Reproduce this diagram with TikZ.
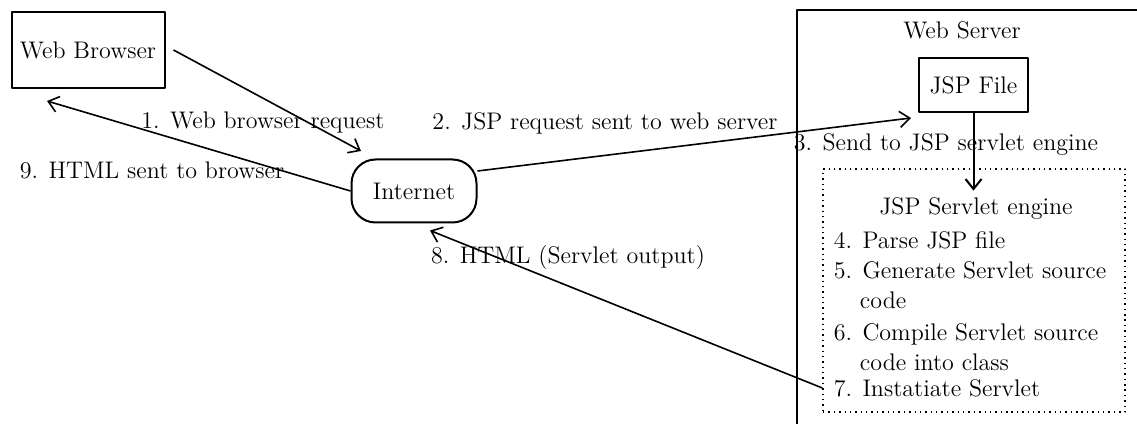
\documentclass[tikz,border=0pt]{standalone}
\usepackage{tikz}
\usetikzlibrary{arrows.meta,calc,positioning}

\tikzset{
  box/.style={draw,line width=1bp,inner sep=2bp},
  netbox/.style={draw,line width=1bp,rounded corners=12bp,minimum width=62.5bp,minimum height=31.5bp},
  enginebox/.style={draw,dotted,line width=0.7bp,minimum width=151bp,minimum height=121.5bp},
  stepline/.style={anchor=west,align=left,inner sep=0pt},
}

\begin{document}
\begin{tikzpicture}[>={Straight Barb[length=5bp,width=8bp]},line join=bevel,font=\fontsize{12bp}{14.8bp}\selectfont]
\pgfsetlinewidth{0.8bp}
\useasboundingbox (0bp,0bp) rectangle (568.5bp,212bp);
\clip (0bp,0bp) rectangle (568.5bp,212bp);
% client side
\node[box,minimum width=76.5bp,minimum height=38bp] (browser) at (44bp,187bp) {Web Browser};
\node[netbox] (internet) at (207bp,116.5bp) {Internet};
% server side
\draw[line width=1bp] (398.5bp,-20bp) rectangle (600bp,207bp);
\node (server) at (481bp,197bp) {Web Server};
\node[box,minimum width=54.5bp,minimum height=27bp] (jspfile) at (486.75bp,169.5bp) {JSP File};
\node[enginebox] (engine) at (487bp,66.75bp) {};
\node (title) at (488bp,107.5bp) {JSP Servlet engine};
\node[stepline] (s4) at (416.5bp,92bp) {4. Parse JSP file};
\node[stepline] (s5) at (416.5bp,69.25bp) {5. Generate Servlet source\\\phantom{5.~}code};
\node[stepline] (s6) at (416.5bp,38.25bp) {6. Compile Servlet source\\\phantom{6.~}code into class};
\node[stepline] (s7) at (416.5bp,18bp) {7. Instatiate Servlet};
% labels
\node (l1) at (131.5bp,150.5bp) {1. Web browser request};
\node (l2) at (302.5bp,150.5bp) {2. JSP request sent to web server};
\node (l3) at (473bp,139.5bp) {3. Send to JSP servlet engine};
\node (l8) at (284bp,83bp) {8. HTML (Servlet output)};
\node (l9) at (76bp,127bp) {9. HTML sent to browser};
% connectors
\draw[->] ([xshift=4bp]browser.east) -- ($(internet.north west)+(5.25bp,3.75bp)$);
\draw[->] ([yshift=10bp]internet.east) -- ($(jspfile.south west)+(-3.5bp,-2.5bp)$);
\draw[->,line width=1bp] (jspfile.south) -- (jspfile.south |- title.north);
\draw[->] (engine.west |- s7.west) -- ($(internet.south)+(8bp,-3.5bp)$);
\draw[->] (internet.west) -- ($(browser.south)+(-20.5bp,-6bp)$);
\end{tikzpicture}
\end{document}
